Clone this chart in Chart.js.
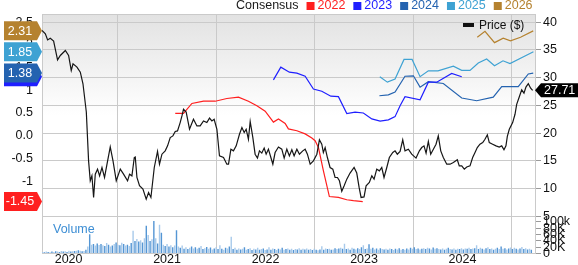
<!DOCTYPE html>
<html>
<head>
<meta charset="utf-8">
<script src="https://cdn.jsdelivr.net/npm/chart.js@4.4.1/dist/chart.umd.min.js"></script>
<style>
  html, body { margin: 0; padding: 0; background: #fff; }
  #wrap { position: relative; width: 578px; height: 265px; }
</style>
</head>
<body>
<div id="wrap"><canvas id="epsChart" width="578" height="265"></canvas></div>
<script>
// x values are decimal years
const yearTicks = [2020, 2021, 2022, 2023, 2024];
const xRange = [2019.73, 2024.736];

// share price ($)
const price = [
  [2019.730,38.5],[2019.764,37.9],[2019.787,36.8],[2019.814,37.1],[2019.848,36.6],[2019.888,33.2],[2019.916,34.0],[2019.967,34.9],
  [2020.000,34.0],[2020.027,31.3],[2020.045,32.5],[2020.085,31.9],[2020.119,31.0],[2020.146,28.9],[2020.180,23.8],[2020.203,15.0],
  [2020.220,11.4],[2020.237,12.3],[2020.254,8.4],[2020.271,12.6],[2020.294,13.5],[2020.315,12.3],[2020.339,13.8],[2020.365,12.0],
  [2020.390,14.4],[2020.423,17.5],[2020.451,15.0],[2020.484,11.4],[2020.525,13.5],[2020.558,12.6],[2020.599,11.4],[2020.619,12.6],
  [2020.643,12.3],[2020.667,15.6],[2020.677,15.7],[2020.694,12.0],[2020.720,10.5],[2020.755,9.9],[2020.788,8.1],[2020.812,9.3],
  [2020.836,8.4],[2020.870,13.8],[2020.903,16.7],[2020.923,14.4],[2020.948,16.2],[2020.981,16.8],
  [2021.005,17.7],[2021.032,19.2],[2021.059,19.5],[2021.083,20.3],[2021.106,20.4],[2021.133,21.9],[2021.151,23.1],[2021.167,24.3],
  [2021.194,23.8],[2021.228,20.7],[2021.268,22.5],[2021.303,21.3],[2021.336,21.3],[2021.370,22.2],[2021.404,21.9],[2021.431,22.7],
  [2021.455,22.2],[2021.478,22.5],[2021.506,20.7],[2021.532,15.9],[2021.573,15.6],[2021.607,14.4],[2021.624,14.4],[2021.648,17.1],
  [2021.674,16.8],[2021.702,17.7],[2021.735,19.8],[2021.760,21.0],[2021.783,20.1],[2021.803,20.7],[2021.826,18.9],[2021.844,22.1],
  [2021.871,19.2],[2021.894,16.2],[2021.918,15.5],[2021.938,16.8],[2021.962,16.4],[2021.986,17.3],
  [2022.006,16.2],[2022.029,17.1],[2022.054,15.6],[2022.074,14.4],[2022.097,16.5],[2022.131,17.5],[2022.165,17.1],[2022.189,15.5],
  [2022.216,17.1],[2022.242,15.9],[2022.267,17.0],[2022.290,15.9],[2022.318,17.1],[2022.344,16.2],[2022.378,16.8],[2022.402,17.1],
  [2022.425,16.2],[2022.453,14.4],[2022.486,15.0],[2022.521,16.2],[2022.547,18.8],[2022.571,18.0],[2022.587,16.5],[2022.605,17.4],
  [2022.628,15.6],[2022.655,13.8],[2022.683,13.5],[2022.706,12.0],[2022.730,12.0],[2022.750,11.4],[2022.774,9.5],[2022.798,10.5],
  [2022.825,11.7],[2022.858,12.8],[2022.899,13.8],[2022.926,12.8],[2022.950,10.2],[2022.970,8.4],
  [2023.000,8.5],[2023.021,10.5],[2023.054,11.1],[2023.079,12.3],[2023.102,11.7],[2023.129,13.5],[2023.156,13.2],[2023.180,13.8],
  [2023.203,12.0],[2023.231,13.8],[2023.257,15.6],[2023.292,16.5],[2023.315,16.8],[2023.338,16.2],[2023.366,16.7],[2023.393,18.8],
  [2023.416,16.8],[2023.450,17.1],[2023.484,16.2],[2023.528,15.5],[2023.562,16.8],[2023.586,17.4],[2023.609,17.7],[2023.630,16.4],
  [2023.653,18.5],[2023.677,16.2],[2023.704,17.1],[2023.731,18.0],[2023.754,19.5],[2023.779,16.8],[2023.805,15.6],[2023.840,14.4],
  [2023.873,14.4],[2023.907,14.7],[2023.947,15.2],[2023.967,14.1],[2023.992,14.1],
  [2024.018,13.5],[2024.043,13.9],[2024.076,14.1],[2024.103,15.6],[2024.127,16.5],[2024.150,17.4],[2024.177,18.0],[2024.205,18.3],
  [2024.228,18.9],[2024.252,19.7],[2024.272,18.3],[2024.306,18.0],[2024.340,17.7],[2024.373,17.5],[2024.398,17.7],[2024.421,17.0],
  [2024.441,17.7],[2024.455,19.4],[2024.475,20.7],[2024.509,21.9],[2024.533,23.4],[2024.550,25.2],[2024.576,26.5],[2024.601,27.8],
  [2024.624,27.2],[2024.644,28.3],[2024.668,28.9],[2024.692,28.1],[2024.712,27.71]
];

// consensus EPS estimates by fiscal year
const eps2022 = [
  [2021.083,0.49],[2021.167,0.49],[2021.252,0.71],[2021.370,0.76],[2021.489,0.76],[2021.607,0.82],[2021.725,0.85],
  [2021.826,0.76],[2021.912,0.66],[2021.996,0.54],[2022.080,0.30],[2022.131,0.37],[2022.199,0.27],[2022.232,0.15],
  [2022.318,0.11],[2022.402,0.04],[2022.470,-0.05],[2022.503,-0.11],[2022.537,-0.26],[2022.587,-0.77],[2022.648,-1.34],
  [2022.740,-1.36],[2022.825,-1.41],[2022.892,-1.43],[2022.987,-1.45]
];
const eps2023 = [
  [2022.080,1.23],[2022.155,1.51],[2022.242,1.40],[2022.318,1.38],[2022.402,1.31],[2022.486,1.03],[2022.571,0.98],
  [2022.663,0.87],[2022.740,0.86],[2022.825,0.49],[2022.909,0.52],[2022.993,0.50],[2023.079,0.37],[2023.163,0.32],
  [2023.247,0.35],[2023.315,0.42],[2023.366,0.66],[2023.416,0.86],[2023.569,0.79],[2023.653,1.18],[2023.738,1.18],
  [2023.890,1.37],[2023.992,1.30]
];
const eps2024 = [
  [2023.156,0.88],[2023.247,0.90],[2023.315,0.96],[2023.416,1.31],[2023.501,1.32],[2023.569,1.07],[2023.653,1.19],
  [2023.805,1.15],[2023.992,0.83],[2024.144,0.77],[2024.312,0.85],[2024.398,1.08],[2024.566,1.08],[2024.668,1.36],
  [2024.718,1.38]
];
const eps2025 = [
  [2023.160,1.30],[2023.237,1.18],[2023.315,1.25],[2023.406,1.68],[2023.488,1.68],[2023.569,1.30],[2023.653,1.43],
  [2023.751,1.43],[2023.907,1.53],[2023.992,1.44],[2024.076,1.44],[2024.160,1.60],[2024.245,1.69],[2024.325,1.54],
  [2024.411,1.65],[2024.482,1.59],[2024.720,1.85]
];
const eps2026 = [
  [2024.150,2.17],[2024.228,2.30],[2024.325,2.05],[2024.413,2.15],[2024.487,2.09],[2024.589,2.17],[2024.718,2.31]
];

const consensusNames = ['2022', '2023', '2024', '2025', '2026'];
const consensusColors = ['#ff1f1f', '#1f1fff', '#2463b0', '#3ea2d3', '#b5822f'];
const consensusSeries = [eps2022, eps2023, eps2024, eps2025, eps2026];

// weekly volume in thousands, first week starting at volStart
const volStart = 2019.735;
const volumeK = [
  5,4,6,5,4,6,5,7,6,5,
  8,6,7,5,9,6,7,8,9,10,
  9,7,8,12,22,61,28,30,25,32,
  27,30,26,24,33,28,22,25,30,35,
  28,26,34,30,25,28,24,33,72,40,
  46,38,42,35,48,88,59,40,45,103,
  48,32,91,66,28,24,30,22,26,20,
  25,74,22,18,25,15,20,14,18,22,
  16,20,15,18,24,14,17,21,15,19,
  13,16,20,14,26,15,12,18,16,22,
  53,14,18,12,16,13,15,20,12,14,
  17,11,15,13,18,12,14,16,11,13,
  20,12,16,14,11,15,13,18,12,14,
  16,12,15,11,14,13,17,12,15,13,
  16,12,14,11,15,12,10,13,23,12,
  16,14,15,12,13,17,14,16,18,15,
  31,14,16,12,18,15,13,17,14,20,
  26,14,16,29,15,18,13,16,12,17,
  14,13,15,12,16,14,11,15,13,17,
  12,14,12,16,13,18,15,20,14,16,
  13,15,17,14,18,16,13,19,15,17,
  14,13,16,12,15,18,14,13,16,12,
  15,14,17,13,16,15,18,14,16,17,
  26,14,18,15,13,17,20,14,16,12,
  15,18,14,22,15,17,13,16,19,14,
  18,15,13,16,21,14,17,13,15,12
];

const epsTicks = [-1, -0.5, 0, 0.5, 1, 1.5, 2, 2.5];
const epsTickLabels = ['-1', '-0.5', '0.0', '0.5', '1', '1.5', '2', '2.5'];
const priceTicks = [5, 10, 15, 20, 25, 30, 35, 40];
const volTicks = [0, 20, 40, 60, 80, 100];
const volTickLabels = ['0', '20K', '40K', '60K', '80K', '100k'];

const FONT = "'Liberation Sans', Arial, sans-serif";
const GRID = '#cacaca';

const toXY = arr => arr.map(([x, y]) => ({ x, y }));

const datasets = [];
datasets.push({
  type: 'line', label: 'Price ($)', data: toXY(price), yAxisID: 'price',
  borderColor: '#161616', borderWidth: 1.2, pointRadius: 0, tension: 0, order: 0
});
consensusSeries.forEach((s, i) => {
  datasets.push({
    type: 'line', label: consensusNames[i], data: toXY(s), yAxisID: 'eps',
    borderColor: consensusColors[i], borderWidth: 1.2, pointRadius: 0, tension: 0, order: 1
  });
});
datasets.push({
  type: 'bar', label: 'Volume', yAxisID: 'vol',
  data: volumeK.map((v, i) => ({ x: volStart + i * 7 / 365.25, y: v })),
  backgroundColor: volumeK.map((v, i) => (i % 2 ? '#5596d4' : '#a8caeb')),
  barPercentage: 0.75, categoryPercentage: 1, order: 2
});

const setTicks = list => s => { s.ticks = list.map(v => ({ value: v })); };
// fixed axis sizes, no label overflow padding
const fixWidth = w => s => { s.width = w; s.paddingTop = 0; s.paddingBottom = 0; };
const fixHeight = h => s => { s.height = h; s.paddingLeft = 0; s.paddingRight = 0; };

const backdrop = {
  id: 'backdrop',
  beforeDraw(chart) {
    const { ctx, chartArea } = chart;
    const p = chart.scales.price;
    ctx.save();
    ctx.fillStyle = '#fff';
    ctx.fillRect(0, 0, chart.width, chart.height);
    const g = ctx.createLinearGradient(0, p.top, 0, p.bottom);
    g.addColorStop(0, '#e2e2e2');
    g.addColorStop(0.5, '#ffffff');
    g.addColorStop(1, '#ffffff');
    ctx.fillStyle = g;
    ctx.fillRect(chartArea.left, p.top, chartArea.right - chartArea.left, p.bottom - p.top);
    ctx.restore();
  },
  beforeDatasetsDraw(chart) {
    const { ctx, chartArea } = chart;
    ctx.save();
    ctx.strokeStyle = GRID;
    ctx.lineWidth = 1;
    ctx.beginPath();
    ctx.moveTo(chartArea.left, Math.floor(chartArea.top) + 0.5);
    ctx.lineTo(chartArea.right, Math.floor(chartArea.top) + 0.5);
    ctx.stroke();
    ctx.restore();
  }
};

function leftFlag(ctx, y, color, text) {
  ctx.beginPath();
  ctx.moveTo(4, y - 9.5);
  ctx.lineTo(37, y - 9.5);
  ctx.lineTo(42, y);
  ctx.lineTo(37, y + 9.5);
  ctx.lineTo(4, y + 9.5);
  ctx.closePath();
  ctx.fillStyle = color;
  ctx.fill();
  ctx.fillStyle = '#fff';
  ctx.font = '12.5px ' + FONT;
  ctx.textAlign = 'center';
  ctx.textBaseline = 'middle';
  ctx.fillText(text, 20, y + 0.5);
}

const overlay = {
  id: 'overlay',
  afterDraw(chart) {
    const { ctx } = chart;
    const eps = chart.scales.eps;
    const pr = chart.scales.price;
    ctx.save();

    // legend on top
    ctx.font = '12.5px ' + FONT;
    ctx.textBaseline = 'middle';
    ctx.textAlign = 'left';
    let x = 236;
    ctx.fillStyle = '#1a1a1a';
    ctx.fillText('Consensus', x, 6);
    x += ctx.measureText('Consensus').width + 8;
    consensusNames.forEach((name, i) => {
      ctx.fillStyle = consensusColors[i];
      ctx.fillRect(x, 2, 8, 8);
      x += 11;
      ctx.fillText(name, x, 6);
      x += ctx.measureText(name).width + 8;
    });

    // price legend inside plot
    ctx.fillStyle = '#111';
    ctx.fillRect(463, 23, 11, 4);
    ctx.font = '12px ' + FONT;
    ctx.fillText('Price ($)', 479, 25.5);

    // volume label
    ctx.fillStyle = '#3d8ed4';
    ctx.font = '12.5px ' + FONT;
    ctx.fillText('Volume', 53, 229.5);

    // flags with latest estimates, older years underneath
    consensusSeries.forEach((s, i) => {
      const v = s[s.length - 1][1];
      leftFlag(ctx, eps.getPixelForValue(v), consensusColors[i], v.toFixed(2));
    });

    // last price flag
    const last = price[price.length - 1][1];
    const py = pr.getPixelForValue(last);
    ctx.beginPath();
    ctx.moveTo(535, py);
    ctx.lineTo(541, py - 7);
    ctx.lineTo(578, py - 7);
    ctx.lineTo(578, py + 7);
    ctx.lineTo(541, py + 7);
    ctx.closePath();
    ctx.fillStyle = '#000';
    ctx.fill();
    ctx.fillStyle = '#fff';
    ctx.font = '12.5px ' + FONT;
    ctx.textAlign = 'left';
    ctx.fillText(last.toFixed(2), 544, py + 0.5);
    ctx.restore();
  }
};

const tickFont = { family: FONT, size: 12.5 };

new Chart(document.getElementById('epsChart'), {
  type: 'line',
  data: { datasets },
  plugins: [backdrop, overlay],
  options: {
    responsive: false,
    animation: false,
    events: [],
    layout: { padding: { top: 14.5, left: 0, right: 0, bottom: 0 } },
    plugins: { legend: { display: false }, tooltip: { enabled: false } },
    scales: {
      x: {
        type: 'linear', position: 'bottom', min: xRange[0], max: xRange[1], offset: false,
        afterBuildTicks: setTicks(yearTicks),
        afterFit: fixHeight(11.5),
        grid: { color: GRID, drawTicks: false },
        border: { color: GRID },
        ticks: { font: { family: FONT, size: 12.5, lineHeight: 1 }, color: '#111', padding: 0,
                 maxRotation: 0, autoSkip: false, callback: v => String(v) }
      },
      volLeft: {
        type: 'linear', position: 'left', stack: 'left', stackWeight: 37.2, weight: 0,
        min: 0, max: 1,
        afterFit: fixWidth(42),
        grid: { display: false },
        border: { color: GRID },
        ticks: { display: false }
      },
      eps: {
        type: 'linear', position: 'left', stack: 'left', stackWeight: 201.8, weight: 1,
        min: -1.775, max: 2.670,
        afterBuildTicks: setTicks(epsTicks),
        afterFit: fixWidth(42),
        grid: { display: false, drawTicks: false },
        border: { color: GRID },
        ticks: { font: tickFont, color: '#111', padding: 9, autoSkip: false,
                 callback: (v, i) => epsTickLabels[i] }
      },
      price: {
        type: 'linear', position: 'right', stack: 'right', stackWeight: 201.8, weight: 0,
        min: 5, max: 41.39,
        afterBuildTicks: setTicks(priceTicks),
        afterFit: fixWidth(43),
        grid: { color: GRID, tickColor: '#9a9a9a', tickLength: 6 },
        border: { color: GRID },
        ticks: { font: tickFont, color: '#111', padding: 2, autoSkip: false, callback: v => String(v) }
      },
      vol: {
        type: 'linear', position: 'right', stack: 'right', stackWeight: 37.2, weight: 1,
        min: 0, max: 118,
        afterBuildTicks: setTicks(volTicks),
        afterFit: fixWidth(43),
        grid: { drawOnChartArea: false, tickColor: '#9a9a9a', tickLength: 6 },
        border: { color: GRID },
        ticks: { font: tickFont, color: '#111', padding: 2, autoSkip: false,
                 callback: (v, i) => volTickLabels[i] }
      }
    }
  }
});
</script>
</body>
</html>
